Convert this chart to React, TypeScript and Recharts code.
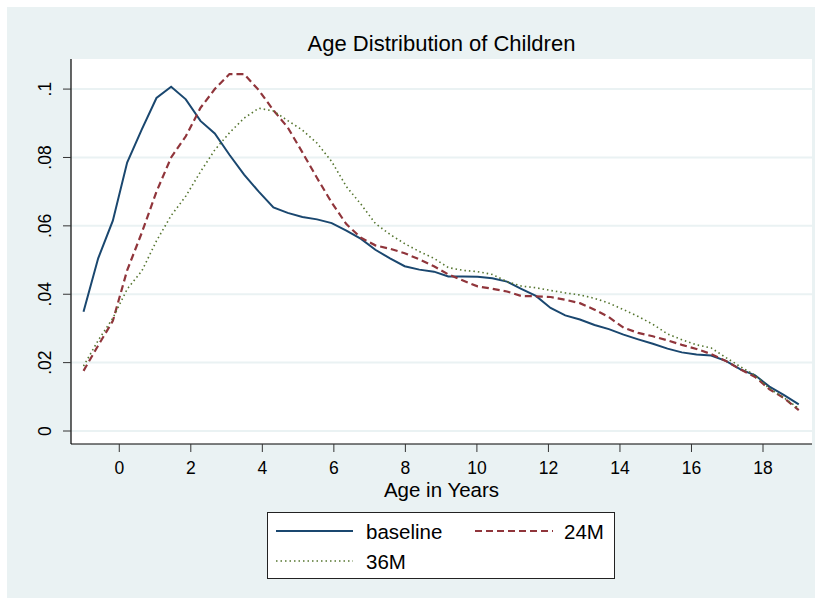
import { LineChart, Line, XAxis, YAxis, CartesianGrid } from 'recharts'

// 50 kernel-density evaluation points, age in years
const ages = [
  -1, -0.59, -0.18, 0.22, 0.63, 1.04, 1.45, 1.86, 2.27, 2.67,
  3.08, 3.49, 3.9, 4.31, 4.71, 5.12, 5.53, 5.94, 6.35, 6.76,
  7.16, 7.57, 7.98, 8.39, 8.8, 9.2, 9.61, 10.02, 10.43, 10.84,
  11.24, 11.65, 12.06, 12.47, 12.88, 13.29, 13.69, 14.1, 14.51, 14.92,
  15.33, 15.73, 16.14, 16.55, 16.96, 17.37, 17.78, 18.18, 18.59, 19,
]

const baseline = [
  0.0349, 0.0505, 0.0615, 0.0785, 0.0882, 0.0974, 0.1007, 0.097, 0.0907, 0.087,
  0.0808, 0.075, 0.07, 0.0654, 0.0638, 0.0626, 0.0619, 0.0608, 0.0586, 0.0562,
  0.053, 0.0505, 0.0482, 0.0472, 0.0466, 0.0452, 0.0452, 0.0451, 0.0447, 0.0437,
  0.0416, 0.0395, 0.036, 0.0338, 0.0326, 0.031, 0.0298, 0.0282, 0.0268, 0.0255,
  0.0241, 0.023, 0.0224, 0.0221, 0.0205, 0.018, 0.0163, 0.013, 0.0105, 0.0078,
]

const m24 = [
  0.0176, 0.025, 0.0322, 0.047, 0.058, 0.07, 0.08, 0.0862, 0.0945, 0.1,
  0.1044, 0.1044, 0.0997, 0.0938, 0.0888, 0.0815, 0.074, 0.0668, 0.0605, 0.0565,
  0.0543, 0.0533, 0.052, 0.0502, 0.0482, 0.0458, 0.044, 0.0423, 0.0416, 0.0408,
  0.0395, 0.0394, 0.0392, 0.0384, 0.0374, 0.0355, 0.0333, 0.0302, 0.0287, 0.0277,
  0.0265, 0.0252, 0.024, 0.0225, 0.0205, 0.018, 0.0158, 0.0122, 0.0096, 0.0061,
]

const m36 = [
  0.019, 0.0265, 0.033, 0.0415, 0.0468, 0.0556, 0.063, 0.0687, 0.0758, 0.0822,
  0.0872, 0.0915, 0.0944, 0.0936, 0.0908, 0.088, 0.0842, 0.0788, 0.0715, 0.0663,
  0.0607, 0.0575, 0.0548, 0.0525, 0.0505, 0.0478, 0.047, 0.0466, 0.0458, 0.0437,
  0.0424, 0.0419, 0.0411, 0.0404, 0.0398, 0.0388, 0.0374, 0.0355, 0.0335, 0.0312,
  0.0284, 0.0267, 0.0252, 0.0243, 0.0215, 0.0188, 0.0163, 0.0124, 0.0097, 0.0066,
]

const xTicks = [0, 2, 4, 6, 8, 10, 12, 14, 16, 18]
const yTicks = [0, 0.02, 0.04, 0.06, 0.08, 0.1]

const data = ages.map((age, i) => ({
  age,
  baseline: baseline[i],
  m24: m24[i],
  m36: m36[i],
}))

const FONT = '"Liberation Sans", Arial, Helvetica, sans-serif'
const NAVY = '#1a476f'
const MAROON = '#90353b'
const GREEN = '#55752f'
const BG = '#eaf2f3'

function fmtY(v: number) {
  if (v === 0) return '0'
  return String(Number(v.toFixed(2))).replace(/^0/, '')
}

function YTick(props: any) {
  const { x, y, payload } = props
  const tx = x - 10
  return (
    <text
      x={tx}
      y={y}
      transform={`rotate(-90, ${tx}, ${y})`}
      textAnchor="middle"
      fontSize={17.5}
      fontFamily={FONT}
      fill="#000"
    >
      {fmtY(payload.value)}
    </text>
  )
}

function LegendBox() {
  return (
    <div
      style={{
        position: 'absolute',
        left: 267,
        top: 512,
        width: 348,
        height: 67,
        boxSizing: 'border-box',
        border: '1px solid #222',
        background: '#fff',
      }}
    >
      <svg width={346} height={65} style={{ display: 'block' }}>
        <g fontFamily={FONT} fontSize={20.5} fill="#000">
          <line x1={8} x2={85} y1={18} y2={18} stroke={NAVY} strokeWidth={2} />
          <text x={98} y={25.5}>baseline</text>
          <line x1={207} x2={285} y1={18} y2={18} stroke={MAROON} strokeWidth={2} strokeDasharray="7 4" />
          <text x={296} y={25.5}>24M</text>
          <line x1={8} x2={85} y1={48} y2={48} stroke={GREEN} strokeWidth={1.6} strokeDasharray="1.5 3" />
          <text x={98} y={55.5}>36M</text>
        </g>
      </svg>
    </div>
  )
}

export default function App() {
  return (
    <div style={{ position: 'absolute', left: 0, top: 0, width: 821, height: 604, background: '#fff' }}>
      <div style={{ position: 'absolute', left: 7, top: 7, width: 808, height: 591, background: BG }} />
      <div
        style={{
          position: 'absolute',
          left: 0,
          top: 33,
          width: 883,
          textAlign: 'center',
          fontFamily: FONT,
          fontSize: 22,
          lineHeight: '22px',
          color: '#000',
        }}
      >
        Age Distribution of Children
      </div>
      <div style={{ position: 'absolute', left: 0, top: 0 }}>
        <LineChart
          width={821}
          height={604}
          data={data}
          margin={{ top: 59, right: 9, left: 31, bottom: 130 }}
        >
          <CartesianGrid vertical={false} fill="#fff" stroke={BG} strokeWidth={2} horizontalValues={yTicks} />
          <XAxis
            dataKey="age"
            type="number"
            domain={[-1.35, 19.37]}
            ticks={xTicks}
            allowDataOverflow
            height={30}
            tickSize={8}
            tickMargin={10}
            axisLine={{ stroke: '#000', strokeWidth: 1.2 }}
            tickLine={{ stroke: '#333', strokeWidth: 1 }}
            tick={{ fontSize: 17.5, fontFamily: FONT, fill: '#000' }}
            label={(p: any) => {
              const vb = p.viewBox
              return (
                <text
                  x={vb.x + vb.width / 2}
                  y={497}
                  textAnchor="middle"
                  fontSize={20.5}
                  fontFamily={FONT}
                  fill="#000"
                >
                  Age in Years
                </text>
              )
            }}
          />
          <YAxis
            type="number"
            domain={[-0.0038, 0.1088]}
            ticks={yTicks}
            allowDataOverflow
            width={40}
            tickSize={8}
            tickMargin={2}
            axisLine={{ stroke: '#000', strokeWidth: 1.2 }}
            tickLine={{ stroke: '#333', strokeWidth: 1 }}
            tick={<YTick />}
          />
          <Line
            dataKey="baseline"
            name="baseline"
            stroke={NAVY}
            strokeWidth={2}
            dot={false}
            type="linear"
            isAnimationActive={false}
          />
          <Line
            dataKey="m24"
            name="24M"
            stroke={MAROON}
            strokeWidth={2.2}
            strokeDasharray="7 4"
            dot={false}
            type="linear"
            isAnimationActive={false}
          />
          <Line
            dataKey="m36"
            name="36M"
            stroke={GREEN}
            strokeWidth={1.6}
            strokeDasharray="1.5 3"
            dot={false}
            type="linear"
            isAnimationActive={false}
          />
        </LineChart>
      </div>
      <LegendBox />
    </div>
  )
}
